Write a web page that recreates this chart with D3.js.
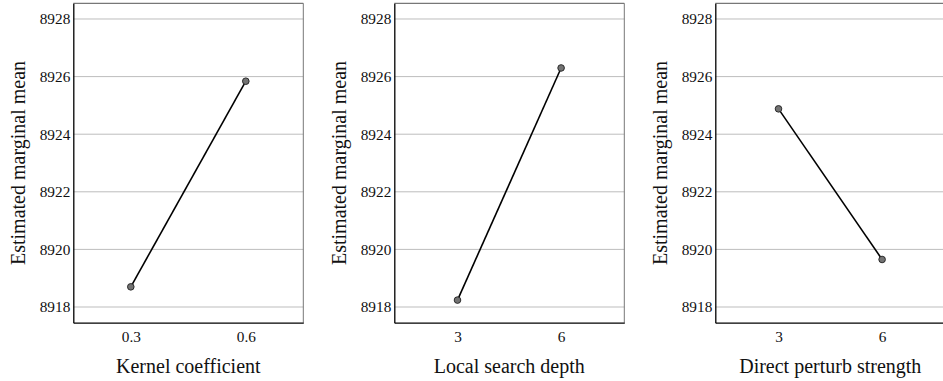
<!DOCTYPE html>
<html>
<head>
<meta charset="utf-8">
<script src="https://cdn.jsdelivr.net/npm/d3@7"></script>
<style>
  html, body { margin: 0; padding: 0; background: #fff; }
  svg { display: block; }
</style>
</head>
<body>
<svg id="chart" width="943" height="381"></svg>
<script>
// Estimated marginal means per factor
const factorNames = ["Kernel coefficient", "Local search depth", "Direct perturb strength"];
const kernelLevels = ["0.3", "0.6"];
const kernelMeans = [8918.70, 8925.84];
const depthLevels = ["3", "6"];
const depthMeans = [8918.24, 8926.30];
const perturbLevels = ["3", "6"];
const perturbMeans = [8924.88, 8919.65];
const yTicks = [8918, 8920, 8922, 8924, 8926, 8928];
const yTitle = "Estimated marginal mean";

const serif = '"Liberation Serif"';

const panels = [
  { title: factorNames[0], levels: kernelLevels, means: kernelMeans, pad: 0.5 },
  { title: factorNames[1], levels: depthLevels, means: depthMeans, pad: 0.61 },
  { title: factorNames[2], levels: perturbLevels, means: perturbMeans, pad: 0.61 }
];

const svg = d3.select("#chart");
const frameW = 230, frameTop = 3.3, frameBottom = 322.7;
const panelLeft = [73.3, 394.3, 715.3];

const y = d3.scaleLinear().domain([8917.455, 8928.545]).range([frameBottom, frameTop]);

panels.forEach((p, i) => {
  const g = svg.append("g").attr("transform", `translate(${panelLeft[i]},0)`);
  const x = d3.scalePoint().domain(p.levels).range([0, frameW]).padding(p.pad);

  // horizontal gridlines
  g.append("g").selectAll("line").data(yTicks).join("line")
    .attr("x1", 0).attr("x2", frameW)
    .attr("y1", d => y(d)).attr("y2", d => y(d))
    .attr("stroke", "#bdbdbd").attr("stroke-width", 1);

  // frame: gray top/right, black left/bottom
  g.append("line").attr("x1", 0).attr("x2", frameW).attr("y1", frameTop).attr("y2", frameTop)
    .attr("stroke", "#555").attr("stroke-width", 1);
  g.append("line").attr("x1", frameW).attr("x2", frameW).attr("y1", frameTop).attr("y2", frameBottom)
    .attr("stroke", "#777").attr("stroke-width", 1);

  // y axis
  const ya = g.append("g").call(d3.axisLeft(y).tickValues(yTicks).tickSize(0).tickPadding(3).tickFormat(d3.format("d")));
  ya.select(".domain").attr("stroke", "#000").attr("stroke-width", 1.3);
  ya.selectAll("text").style("font-family", serif).style("font-size", "15.3px").attr("fill", "#111");

  // x axis
  const xa = g.append("g").attr("transform", `translate(0,${frameBottom})`)
    .call(d3.axisBottom(x).tickSize(0).tickPadding(8.5));
  xa.select(".domain").attr("stroke", "#000").attr("stroke-width", 1.3);
  xa.selectAll("text").style("font-family", serif).style("font-size", "15.3px").attr("fill", "#111");

  // mean profile line and markers
  const pts = p.levels.map((l, k) => [x(l), y(p.means[k])]);
  g.append("path").attr("d", d3.line()(pts))
    .attr("fill", "none").attr("stroke", "#000").attr("stroke-width", 1.6);
  g.append("g").selectAll("circle").data(pts).join("circle")
    .attr("cx", d => d[0]).attr("cy", d => d[1]).attr("r", 3.3)
    .attr("fill", "#737373").attr("stroke", "#2a2a2a").attr("stroke-width", 1);

  // axis titles
  g.append("text").attr("x", frameW / 2).attr("y", 373)
    .attr("text-anchor", "middle").style("font-family", serif).style("font-size", "20px")
    .attr("fill", "#111").text(p.title);
  g.append("text")
    .attr("transform", `translate(${-48.3},${(frameTop + frameBottom) / 2}) rotate(-90)`)
    .attr("text-anchor", "middle").style("font-family", serif).style("font-size", "20px")
    .attr("fill", "#111").text(yTitle);
});
</script>
</body>
</html>
